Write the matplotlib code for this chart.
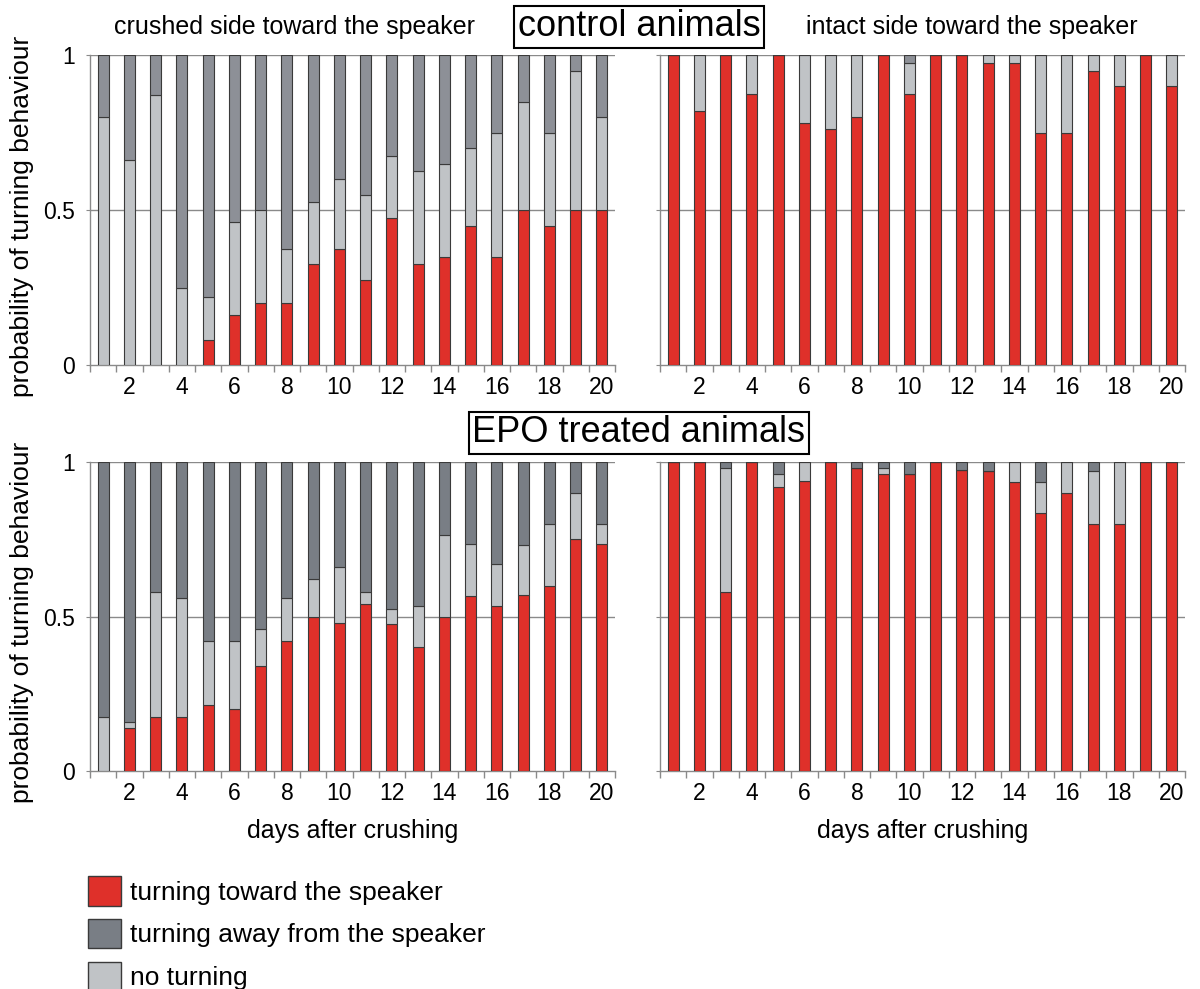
import numpy as np
import matplotlib.pyplot as plt
from matplotlib.patches import Patch

plt.rcParams['font.family'] = ['Liberation Sans', 'DejaVu Sans']

days = np.arange(1, 21)

# proportions per day: toward speaker (red) and "no turning" (light grey);
# the rest up to 1 is "turning away"
ctrl_crushed_toward = [0, 0, 0, 0, 0.08, 0.16, 0.2, 0.2, 0.325, 0.375,
                       0.275, 0.475, 0.325, 0.35, 0.45, 0.35, 0.5, 0.45, 0.5, 0.5]
ctrl_crushed_none = [0.8, 0.66, 0.87, 0.25, 0.14, 0.3, 0.3, 0.175, 0.2, 0.225,
                     0.275, 0.2, 0.3, 0.3, 0.25, 0.4, 0.35, 0.3, 0.45, 0.3]

ctrl_intact_toward = [1, 0.82, 1, 0.875, 1, 0.78, 0.76, 0.8, 1, 0.875,
                      1, 1, 0.975, 0.975, 0.75, 0.75, 0.95, 0.9, 1, 0.9]
ctrl_intact_none = [0, 0.18, 0, 0.125, 0, 0.22, 0.24, 0.2, 0, 0.1,
                    0, 0, 0.025, 0.025, 0.25, 0.25, 0.05, 0.1, 0, 0.1]

epo_crushed_toward = [0, 0.14, 0.175, 0.175, 0.215, 0.2, 0.34, 0.42, 0.5, 0.48,
                      0.54, 0.475, 0.4, 0.5, 0.565, 0.535, 0.57, 0.6, 0.75, 0.735]
epo_crushed_none = [0.175, 0.02, 0.405, 0.385, 0.205, 0.22, 0.12, 0.14, 0.12, 0.18,
                    0.04, 0.05, 0.135, 0.265, 0.17, 0.135, 0.16, 0.2, 0.15, 0.065]

epo_intact_toward = [1, 1, 0.58, 1, 0.92, 0.94, 1, 0.98, 0.96, 0.96,
                     1, 0.975, 0.97, 0.935, 0.835, 0.9, 0.8, 0.8, 1, 1]
epo_intact_none = [0, 0, 0.4, 0, 0.04, 0.06, 0, 0, 0.02, 0,
                   0, 0, 0, 0.065, 0.1, 0.1, 0.17, 0.2, 0, 0]

RED = '#df302a'
LIGHT = '#c0c3c6'
DARK_TOP = '#8d9097'
DARK_BOT = '#797e85'
EDGE = '#3a3a3a'
AXIS = '#8a8a8a'

fig = plt.figure(figsize=(12, 9.89), dpi=100)

W, H = 1200, 989


def px_axes(x0, x1, ytop, ybot):
    return fig.add_axes([x0 / W, 1 - ybot / H, (x1 - x0) / W, (ybot - ytop) / H])


def draw_panel(ax, toward, none, dark, show_ylabels):
    toward = np.array(toward)
    none = np.array(none)
    away = 1 - toward - none
    kw = dict(width=0.42, edgecolor=EDGE, linewidth=0.8, zorder=3)
    ax.bar(days, toward, color=RED, **kw)
    ax.bar(days, none, bottom=toward, color=LIGHT, **kw)
    ax.bar(days, away, bottom=toward + none, color=dark, **kw)

    ax.set_xlim(0.5, 20.5)
    ax.set_ylim(0, 1)
    for s in ['top', 'right']:
        ax.spines[s].set_visible(False)
    for s in ['left', 'bottom']:
        ax.spines[s].set_color(AXIS)
        ax.spines[s].set_linewidth(1.0)
    for y in (0.5, 1.0):
        ax.axhline(y, color=AXIS, linewidth=1.0, zorder=1)

    ax.set_xticks(np.arange(2, 21, 2))
    ax.set_xticks(np.arange(0.5, 21, 1), minor=True)
    ax.tick_params(axis='x', which='major', length=0, labelsize=16.5, pad=8)
    ax.tick_params(axis='x', which='minor', length=5, color=AXIS, width=1)
    ax.set_yticks([0, 0.5, 1])
    if show_ylabels:
        ax.set_yticklabels(['0', '0.5', '1'])
    else:
        ax.set_yticklabels([])
    ax.tick_params(axis='y', length=3, color=AXIS, labelsize=16.5, pad=8)


ax_tl = px_axes(90, 615, 55, 365)
ax_tr = px_axes(660, 1185, 55, 365)
ax_bl = px_axes(90, 615, 462, 771)
ax_br = px_axes(660, 1185, 462, 771)

draw_panel(ax_tl, ctrl_crushed_toward, ctrl_crushed_none, DARK_TOP, True)
draw_panel(ax_tr, ctrl_intact_toward, ctrl_intact_none, DARK_TOP, False)
draw_panel(ax_bl, epo_crushed_toward, epo_crushed_none, DARK_BOT, True)
draw_panel(ax_br, epo_intact_toward, epo_intact_none, DARK_BOT, False)

for ax in (ax_tl, ax_bl):
    ax.set_ylabel('probability of turning behaviour', fontsize=19)
    ax.yaxis.set_label_coords(-0.106, 0.48)
for ax in (ax_bl, ax_br):
    ax.set_xlabel('days after crushing', fontsize=18, labelpad=10)

fig.text(295 / W, 1 - 27 / H, 'crushed side toward the speaker',
         ha='center', va='center', fontsize=18)
fig.text(972 / W, 1 - 27 / H, 'intact side toward the speaker',
         ha='center', va='center', fontsize=18)

box = dict(boxstyle='square,pad=0.1', facecolor='white', edgecolor='black', linewidth=1.5)
fig.text(639 / W, 1 - 27 / H, 'control animals', ha='center', va='center',
         fontsize=26, bbox=box)
fig.text(639 / W, 1 - 433 / H, 'EPO treated animals', ha='center', va='center',
         fontsize=26, bbox=box)

handles = [Patch(facecolor=RED, edgecolor=EDGE, label='turning toward the speaker'),
           Patch(facecolor=DARK_BOT, edgecolor=EDGE, label='turning away from the speaker'),
           Patch(facecolor=LIGHT, edgecolor=EDGE, label='no turning')]
fig.legend(handles=handles, loc='upper left', bbox_to_anchor=(88 / W, 1 - 876 / H),
           frameon=False, fontsize=19, handlelength=1.25, handleheight=1.35,
           labelspacing=0.5, handletextpad=0.35, borderaxespad=0, borderpad=0)

fig.savefig('out.png', dpi=100, facecolor='white')
